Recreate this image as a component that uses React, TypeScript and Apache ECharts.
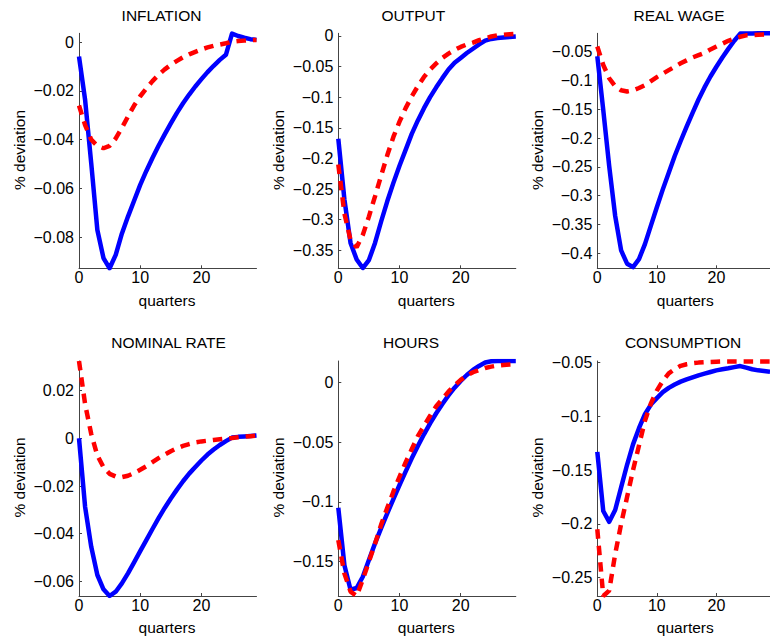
import React, { useEffect, useRef } from "react";
import * as echarts from "echarts";

const quarters = [0,1,2,3,4,5,6,7,8,9,10,11,12,13,14,15,16,17,18,19,20,21,22,23,24,25,26,27,28,29];
const xTickValues = [0, 10, 20];

const panelTitles = ["INFLATION", "OUTPUT", "REAL WAGE", "NOMINAL RATE", "HOURS", "CONSUMPTION"];

const inflationBlue = [-0.0059,-0.0237,-0.0497,-0.077,-0.0885,-0.0927,-0.0872,-0.0785,-0.0715,-0.065,-0.0585,-0.0528,-0.0475,-0.0425,-0.0378,-0.0333,-0.029,-0.0251,-0.0215,-0.0182,-0.0152,-0.0123,-0.0097,-0.0073,-0.0052,0.0035,0.0025,0.0018,0.0012,0.0009];
const inflationRed = [-0.026,-0.034,-0.04,-0.0425,-0.0435,-0.0425,-0.0395,-0.0352,-0.0305,-0.026,-0.0222,-0.019,-0.016,-0.0134,-0.0112,-0.0093,-0.0077,-0.0062,-0.005,-0.004,-0.003,-0.0022,-0.0015,-0.001,-0.0005,0.0001,0.0004,0.0006,0.0008,0.0009];

const outputBlue = [-0.168,-0.267,-0.338,-0.365,-0.379,-0.366,-0.338,-0.303,-0.27,-0.24,-0.212,-0.186,-0.16,-0.138,-0.118,-0.1,-0.084,-0.069,-0.055,-0.044,-0.036,-0.028,-0.021,-0.014,-0.0077,-0.005,-0.0035,-0.0025,-0.0018,-0.0012];
const outputRed = [-0.21,-0.29,-0.333,-0.345,-0.325,-0.295,-0.262,-0.228,-0.195,-0.165,-0.14,-0.118,-0.099,-0.082,-0.067,-0.055,-0.045,-0.036,-0.029,-0.023,-0.018,-0.014,-0.011,-0.007,-0.004,-0.001,0.001,0.002,0.0028,0.0035];

const wageBlue = [-0.058,-0.151,-0.249,-0.335,-0.395,-0.418,-0.424,-0.41,-0.384,-0.352,-0.32,-0.289,-0.26,-0.231,-0.205,-0.18,-0.156,-0.133,-0.112,-0.093,-0.076,-0.06,-0.045,-0.031,-0.0185,-0.0183,-0.0182,-0.0181,-0.018,-0.018];
const wageRed = [-0.041,-0.073,-0.096,-0.11,-0.117,-0.119,-0.117,-0.113,-0.108,-0.101,-0.094,-0.088,-0.082,-0.076,-0.07,-0.065,-0.06,-0.056,-0.052,-0.046,-0.041,-0.036,-0.031,-0.027,-0.024,-0.0215,-0.021,-0.0205,-0.0202,-0.02];

const rateBlue = [0,-0.0288,-0.0455,-0.0573,-0.0633,-0.0661,-0.0643,-0.0608,-0.0566,-0.052,-0.0473,-0.0427,-0.038,-0.0335,-0.0292,-0.0252,-0.0215,-0.018,-0.0148,-0.012,-0.0093,-0.0068,-0.0047,-0.0028,-0.0012,0.0003,0.0006,0.0008,0.001,0.0012];
const rateRed = [0.0324,0.0143,0.0018,-0.0072,-0.0121,-0.0149,-0.016,-0.0163,-0.0157,-0.0146,-0.0132,-0.0117,-0.01,-0.0083,-0.0068,-0.0054,-0.0042,-0.0032,-0.0024,-0.0017,-0.0013,-0.001,-0.0007,-0.0004,-0.0001,0.0001,0.0004,0.0007,0.0009,0.0011];

const hoursBlue = [-0.105,-0.153,-0.1735,-0.172,-0.1626,-0.1486,-0.1347,-0.122,-0.1096,-0.0976,-0.0859,-0.0747,-0.0636,-0.0533,-0.0435,-0.0343,-0.0259,-0.0181,-0.0109,-0.0045,0.0011,0.0061,0.0103,0.0137,0.0165,0.0176,0.0178,0.0178,0.0178,0.0178];
const hoursRed = [-0.132,-0.16,-0.175,-0.1787,-0.165,-0.15,-0.135,-0.119,-0.105,-0.0915,-0.079,-0.067,-0.056,-0.045,-0.0365,-0.028,-0.02,-0.014,-0.0078,-0.0025,0.002,0.0056,0.0084,0.0103,0.012,0.0131,0.014,0.0145,0.0148,0.015];

const consBlue = [-0.133,-0.188,-0.198,-0.187,-0.166,-0.145,-0.126,-0.111,-0.098,-0.089,-0.083,-0.0775,-0.0735,-0.0703,-0.0677,-0.0656,-0.0637,-0.0618,-0.0603,-0.0587,-0.0572,-0.0562,-0.0553,-0.0542,-0.0532,-0.0547,-0.0562,-0.0572,-0.0578,-0.0584];
const consRed = [-0.205,-0.267,-0.262,-0.228,-0.2,-0.175,-0.15,-0.127,-0.104,-0.088,-0.076,-0.067,-0.06,-0.056,-0.053,-0.0515,-0.0506,-0.05,-0.0497,-0.0494,-0.0492,-0.049,-0.049,-0.049,-0.049,-0.049,-0.049,-0.049,-0.049,-0.049];

const blueSeries = [inflationBlue, outputBlue, wageBlue, rateBlue, hoursBlue, consBlue];
const redSeries = [inflationRed, outputRed, wageRed, rateRed, hoursRed, consRed];

const yTickValues = [
  [0, -0.02, -0.04, -0.06, -0.08],
  [0, -0.05, -0.1, -0.15, -0.2, -0.25, -0.3, -0.35],
  [-0.05, -0.1, -0.15, -0.2, -0.25, -0.3, -0.35, -0.4],
  [0.02, 0, -0.02, -0.04, -0.06],
  [0, -0.05, -0.1, -0.15],
  [-0.05, -0.1, -0.15, -0.2, -0.25],
];
const yMins = [-0.0927, -0.3794, -0.426, -0.0661, -0.1787, -0.267];
const yMaxs = [0.0036, 0.0042, -0.018, 0.0324, 0.0178, -0.0485];

const FONT = "'Liberation Sans', Arial, Helvetica, sans-serif";
const AXIS_COLOR = "#444444";
const colLefts = [79, 338.3, 597.3];
const rowTops = [33.3, 361];
const plotW = 177.5;
const plotH = 235;
const titlePos = [[161.5, 15], [413.3, 15], [679, 15], [168.5, 342.8], [411, 342.8], [683, 342.8]];
const yNameX = [19.8, 278.1, 537.1];
const yNameY = [150, 477.5];
const xNameY = [300, 627];

function fmt(v: number): string {
  if (Math.abs(v) < 1e-12) return "0";
  const s = String(parseFloat(Math.abs(v).toFixed(4)));
  return (v < 0 ? "\u2212" : "") + s;
}

export default function App() {
  const ref = useRef<HTMLDivElement>(null);
  useEffect(() => {
    if (!ref.current) return;
    const chart = echarts.init(ref.current, undefined, { renderer: "svg" });
    const idx = [0, 1, 2, 3, 4, 5];
    const grids = idx.map((i) => ({
      left: colLefts[i % 3],
      top: rowTops[Math.floor(i / 3)],
      width: plotW,
      height: plotH,
      containLabel: false,
    }));
    const axisLineStyle = { color: AXIS_COLOR, width: 1 };
    const xAxes = idx.map((i) => ({
      type: "value",
      gridIndex: i,
      min: 0,
      max: 29,
      axisLine: { show: true, onZero: false, lineStyle: axisLineStyle },
      axisTick: { show: true, inside: true, length: 3, customValues: xTickValues, lineStyle: axisLineStyle },
      axisLabel: { show: true, customValues: xTickValues, margin: 1, fontSize: 16, color: "#000", fontFamily: FONT, formatter: (v: number) => fmt(v) },
      splitLine: { show: false },
    }));
    const yAxes = idx.map((i) => ({
      type: "value",
      gridIndex: i,
      min: yMins[i],
      max: yMaxs[i],
      axisLine: { show: true, onZero: false, lineStyle: axisLineStyle },
      axisTick: { show: true, inside: true, length: 3, customValues: yTickValues[i], lineStyle: axisLineStyle },
      axisLabel: { show: true, customValues: yTickValues[i], margin: 5, fontSize: 16, color: "#000", fontFamily: FONT, formatter: (v: number) => fmt(v) },
      splitLine: { show: false },
    }));
    const series: any[] = [];
    idx.forEach((i) => {
      series.push({
        type: "line",
        xAxisIndex: i,
        yAxisIndex: i,
        data: quarters.map((q, k) => [q, blueSeries[i][k]]),
        showSymbol: false,
        symbol: "none",
        silent: true,
        clip: true,
        lineStyle: { color: "#0000ff", width: 4.5, type: "solid", join: "round" },
        z: 2,
      });
      series.push({
        type: "line",
        xAxisIndex: i,
        yAxisIndex: i,
        data: quarters.map((q, k) => [q, redSeries[i][k]]),
        showSymbol: false,
        symbol: "none",
        silent: true,
        clip: true,
        lineStyle: { color: "#ff0000", width: 4.5, type: [9.5, 7], cap: "butt" },
        z: 3,
      });
    });
    const graphics: any[] = [];
    idx.forEach((i) => {
      const col = i % 3;
      const row = Math.floor(i / 3);
      graphics.push({
        type: "text",
        x: titlePos[i][0],
        y: titlePos[i][1],
        style: { text: panelTitles[i], fill: "#000", font: `15.5px ${FONT}`, textAlign: "center", textVerticalAlign: "middle" },
      });
      graphics.push({
        type: "text",
        x: yNameX[col],
        y: yNameY[row],
        rotation: Math.PI / 2,
        style: { text: "% deviation", fill: "#000", font: `15.5px ${FONT}`, textAlign: "center", textVerticalAlign: "middle" },
      });
      graphics.push({
        type: "text",
        x: colLefts[col] + 88,
        y: xNameY[row],
        style: { text: "quarters", fill: "#000", font: `15.5px ${FONT}`, textAlign: "center", textVerticalAlign: "middle" },
      });
    });
    chart.setOption({
      animation: false,
      backgroundColor: "#ffffff",
      grid: grids,
      xAxis: xAxes,
      yAxis: yAxes,
      series,
      graphic: graphics,
    });
    return () => chart.dispose();
  }, []);
  return <div ref={ref} style={{ position: "absolute", left: 0, top: 0, width: 770, height: 644 }} />;
}
